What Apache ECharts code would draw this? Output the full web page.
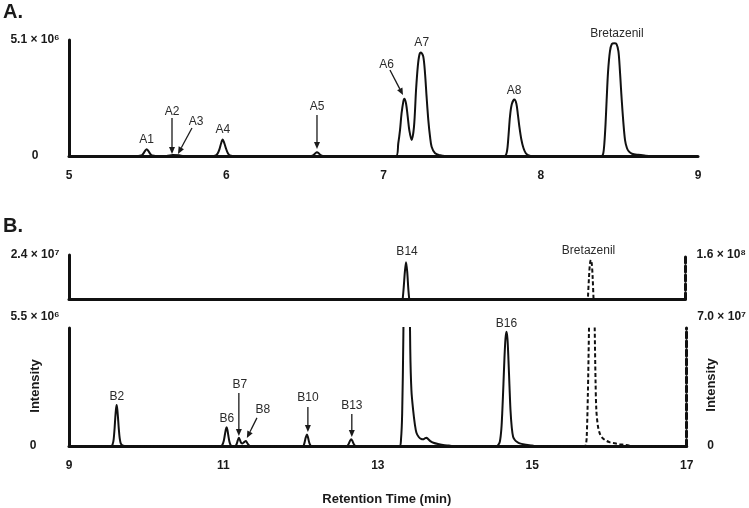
<!DOCTYPE html>
<html><head><meta charset="utf-8">
<script src="https://cdn.jsdelivr.net/npm/echarts@6/dist/echarts.min.js"></script>
<style>html,body{margin:0;padding:0;background:#fff}#c{width:749px;height:508px}</style>
</head><body><div id="c"></div>
<script>
const FONT = '"Liberation Sans", Arial, Helvetica, sans-serif';

// ---------- Panel A trace (time in min, intensity in units of 1e6) ----------
const aTime = [5.00,
  5.44, 5.458, 5.467, 5.476, 5.485, 5.494, 5.503, 5.512, 5.521, 5.53, 5.55,
  5.62, 5.66, 5.70, 5.73,
  5.92, 5.937, 5.947, 5.957, 5.967, 5.977, 5.987, 5.997, 6.007, 6.017, 6.03, 6.04,
  6.54, 6.555, 6.565, 6.577, 6.589, 6.60, 6.615,
  7.08, 7.094, 7.105, 7.115, 7.126, 7.132, 7.143, 7.154, 7.164, 7.179, 7.194, 7.207, 7.218, 7.228, 7.238,
  7.253, 7.264, 7.274, 7.285, 7.296, 7.306, 7.328, 7.36, 7.39,
  7.77, 7.785, 7.795, 7.804, 7.815, 7.832, 7.845, 7.855, 7.864, 7.876, 7.89, 7.905, 7.92, 7.95,
  8.385, 8.397, 8.405, 8.412, 8.419, 8.428, 8.44, 8.452, 8.468, 8.482, 8.494, 8.503, 8.51, 8.515, 8.525,
  8.536, 8.548, 8.56, 8.58, 8.62, 8.66, 8.70, 9.00];
const aIntensity = [0,
  0, 0.02, 0.06, 0.14, 0.24, 0.30, 0.24, 0.14, 0.06, 0.02, 0,
  0, 0.04, 0.03, 0,
  0, 0.04, 0.13, 0.30, 0.55, 0.73, 0.58, 0.36, 0.17, 0.06, 0.01, 0,
  0, 0.04, 0.11, 0.17, 0.11, 0.04, 0,
  0, 0.56, 1.14, 1.88, 2.39, 2.52, 2.32, 1.73, 1.14, 0.70, 1.29, 2.90, 3.93, 4.44, 4.55,
  4.37, 3.64, 2.61, 1.58, 0.85, 0.41, 0.12, 0.03, 0,
  0, 0.2, 0.9, 1.71, 2.25, 2.48, 2.3, 1.8, 1.29, 0.75, 0.35, 0.12, 0.04, 0,
  0, 0.1, 0.6, 1.4, 2.46, 3.7, 4.6, 4.92, 4.96, 4.92, 4.6, 3.8, 3.0, 2.46, 1.5,
  0.70, 0.35, 0.2, 0.1, 0.05, 0.02, 0, 0];

// ---------- Panel B solid trace (left axes, units of 1e6) ----------
const bTime = [9.00,
  9.55, 9.565, 9.578, 9.59, 9.60, 9.608, 9.617, 9.626, 9.635, 9.645, 9.657, 9.67, 9.69, 9.72,
  10.965, 10.985, 11.005, 11.02, 11.03, 11.041, 11.052, 11.063, 11.078, 11.093, 11.11,
  11.15, 11.17, 11.185, 11.20, 11.215, 11.23, 11.248, 11.268, 11.291, 11.31, 11.325, 11.345,
  12.03, 12.048, 12.065, 12.081, 12.097, 12.115, 12.14,
  12.60, 12.62, 12.64, 12.655, 12.67, 12.69, 12.715,
  13.28, 13.30, 13.315, 13.33, 13.345, 13.36, 13.375, 13.39, 13.405, 13.42, 13.435, 13.457, 13.48, 13.50,
  13.53, 13.56, 13.587, 13.61, 13.63, 13.65, 13.68, 13.72, 13.78, 13.845, 13.92, 13.97,
  14.53, 14.557, 14.58, 14.60, 14.613, 14.627, 14.64, 14.653, 14.666, 14.679, 14.692, 14.705, 14.718,
  14.735, 14.752, 14.775, 14.80, 14.838, 14.90, 14.968, 15.05, 17.00];
const bIntensity = [0,
  0, 0.08, 0.3, 0.8, 1.35, 1.7, 1.91, 1.7, 1.3, 0.8, 0.35, 0.12, 0.03, 0,
  0, 0.05, 0.25, 0.55, 0.75, 0.87, 0.75, 0.5, 0.2, 0.05, 0,
  0, 0.08, 0.25, 0.39, 0.27, 0.15, 0.12, 0.18, 0.23, 0.13, 0.05, 0,
  0, 0.12, 0.38, 0.54, 0.38, 0.12, 0,
  0, 0.08, 0.24, 0.31, 0.24, 0.08, 0,
  0, 0.3, 1.5, 5.0, 10.5, 17, 21, 17, 9.5, 4.5, 2.6, 1.68, 1.0, 0.62,
  0.42, 0.33, 0.31, 0.36, 0.39, 0.33, 0.23, 0.15, 0.09, 0.05, 0.02, 0,
  0, 0.04, 0.2, 0.8, 1.68, 2.9, 4.1, 5.0, 5.33, 5.0, 4.0, 2.8, 1.68,
  0.85, 0.43, 0.28, 0.2, 0.12, 0.07, 0.04, 0, 0];

// ---------- Panel B dashed Bretazenil trace (right axes, units of 1e6) ----------
const bBretTime = [9.00, 15.68, 15.693, 15.705, 15.72, 15.735, 15.75, 15.762, 15.774, 15.786, 15.797, 15.809,
  15.82, 15.83, 15.85, 15.874, 15.90, 15.94, 16.00, 16.07, 16.13, 16.20, 16.26, 16.30, 17.00];
const bBretIntensity = [0, 0, 0.5, 5, 30, 70, 115, 142, 150, 142, 115, 70,
  38, 21.4, 12, 7.5, 5.2, 3.6, 2.3, 1.6, 1.1, 0.6, 0.2, 0, 0];

// ---------- Axes ----------
const aTicks = [5, 6, 7, 8, 9];
const bTicks = [9, 11, 13, 15, 17];
const aYMax = 5.1, aYMaxLabel = '5.1 × 10⁶';
const bTopLeftMin = 5.5, bTopLeftMax = 24, bTopLeftLabel = '2.4 × 10⁷';
const bTopRightMin = 70, bTopRightMax = 160, bTopRightLabel = '1.6 × 10⁸';
const bBotLeftMax = 5.5, bBotLeftLabel = '5.5 × 10⁶';
const bBotRightMax = 70, bBotRightLabel = '7.0 × 10⁷';

// ---------- Annotations [text, panel, time, intensity] ----------
const peakLabels = [
  ['A1', 'A', 5.494, 0.70], ['A2', 'A', 5.655, 1.93], ['A3', 'A', 5.808, 1.50],
  ['A4', 'A', 5.979, 1.14], ['A5', 'A', 6.577, 2.15], ['A6', 'A', 7.020, 4.03],
  ['A7', 'A', 7.243, 4.96], ['A8', 'A', 7.830, 2.86], ['Bretazenil', 'A', 8.485, 5.36],
  ['B14', 'Btop', 13.388, 25.26], ['Bretazenil', 'Btop', 15.744, 25.68],
  ['B2', 'Bbot', 9.621, 2.28], ['B6', 'Bbot', 11.045, 1.26], ['B7', 'Bbot', 11.214, 2.84],
  ['B8', 'Bbot', 11.511, 1.68], ['B10', 'Bbot', 12.094, 2.24], ['B13', 'Bbot', 12.663, 1.86],
  ['B16', 'Bbot', 14.666, 5.72]
];
// [panel, t1, v1, t2, v2] arrow from (t1,v1) to tip (t2,v2)
const arrows = [
  ['A', 5.655, 1.67, 5.655, 0.09], ['A', 5.782, 1.23, 5.693, 0.09],
  ['A', 6.577, 1.80, 6.577, 0.31], ['A', 7.041, 3.78, 7.124, 2.68],
  ['Bbot', 11.20, 2.47, 11.20, 0.47], ['Bbot', 11.434, 1.31, 11.304, 0.37],
  ['Bbot', 12.094, 1.82, 12.094, 0.65], ['Bbot', 12.663, 1.49, 12.663, 0.42]
];

const zip = (xs, ys) => xs.map((x, i) => [x, ys[i]]);
const near = (a, b) => Math.abs(a - b) < 1e-6;
const axisLineStyle = { color: '#111', width: 3 };
const lbl = { fontFamily: FONT, fontWeight: 'bold', fontSize: 12, color: '#1a1a1a' };

function xAx(grid, min, max, ticks, showLabels, extra) {
  return Object.assign({
    gridIndex: grid, type: 'value', min: min, max: max, interval: 1,
    axisLine: { show: true, onZero: false, lineStyle: axisLineStyle },
    axisTick: { show: false }, splitLine: { show: false },
    axisLabel: Object.assign({}, lbl, { show: showLabels, margin: 14,
      formatter: v => ticks.includes(v) ? String(v) : '' })
  }, extra || {});
}
function yAx(grid, pos, min, max, fmt, dashed, margin, extra) {
  return Object.assign({
    gridIndex: grid, type: 'value', position: pos, min: min, max: max,
    axisLine: { show: true, onZero: false, lineStyle: Object.assign({}, axisLineStyle, dashed ? { type: [6, 3] } : {}) },
    axisTick: { show: false }, splitLine: { show: false },
    axisLabel: Object.assign({}, lbl, { align: 'center', margin: margin, formatter: fmt,
      rich: { z: Object.assign({}, lbl, { padding: [0, 24, 0, 0] }) } })
  }, extra || {});
}
const nameStyle = (pad) => ({ fontFamily: FONT, fontWeight: 'bold', fontSize: 12, color: '#1a1a1a',
  align: 'center', verticalAlign: 'middle', padding: pad });

const solid = { color: '#111', width: 2 };
const dashed = { color: '#111', width: 2, type: [4, 2.5] };
function line(data, xi, yi, style) {
  return { type: 'line', data: data, xAxisIndex: xi, yAxisIndex: yi, showSymbol: false, symbol: 'none',
    smooth: 0.3, lineStyle: style, itemStyle: { color: '#111' }, clip: true, silent: true };
}

const chart = echarts.init(document.getElementById('c'));
chart.setOption({
  animation: false,
  grid: [
    { left: 69, top: 40, width: 629, height: 116 },
    { left: 69, top: 255, width: 618, height: 44 },
    { left: 69, top: 328, width: 618, height: 118 }
  ],
  xAxis: [
    xAx(0, 5, 9, aTicks, true),
    xAx(1, 9, 17, bTicks, false),
    xAx(2, 9, 17, bTicks, true, { name: 'Retention Time (min)', nameLocation: 'middle', nameGap: 47,
      nameTextStyle: { fontFamily: FONT, fontWeight: 'bold', fontSize: 13, color: '#1a1a1a', padding: [0, 0, 0, 18] } })
  ],
  yAxis: [
    yAx(0, 'left', 0, aYMax, v => near(v, 0) ? '0' : (near(v, aYMax) ? aYMaxLabel : ''), false, 34, { interval: aYMax }),
    yAx(1, 'left', bTopLeftMin, bTopLeftMax, v => near(v, bTopLeftMax) ? bTopLeftLabel : '', false, 34),
    yAx(1, 'right', bTopRightMin, bTopRightMax, v => near(v, bTopRightMax) ? bTopRightLabel : '', true, 36),
    yAx(2, 'left', 0, bBotLeftMax, v => near(v, 0) ? '0' : '', false, 36, { interval: bBotLeftMax,
      name: bBotLeftLabel, nameLocation: 'end', nameGap: 11, nameTextStyle: nameStyle([0, 68, 0, 0]) }),
    yAx(2, 'right', 0, bBotRightMax, v => near(v, 0) ? '{z|0}' : '', true, 36, { interval: bBotRightMax,
      name: bBotRightLabel, nameLocation: 'end', nameGap: 11, nameTextStyle: nameStyle([0, 0, 0, 70]) })
  ],
  series: [
    line(zip(aTime, aIntensity), 0, 0, solid),
    line(zip(bTime, bIntensity), 1, 1, solid),
    line(zip(bBretTime, bBretIntensity), 1, 2, dashed),
    line(zip(bTime, bIntensity), 2, 3, solid),
    line(zip(bBretTime, bBretIntensity), 2, 4, dashed)
  ]
});

const panels = { A: { xAxisIndex: 0, yAxisIndex: 0 }, Btop: { xAxisIndex: 1, yAxisIndex: 1 }, Bbot: { xAxisIndex: 2, yAxisIndex: 3 } };
const px = (p, t, v) => chart.convertToPixel(panels[p], [t, v]);
const g = [];
function txt(text, x, y, font, rot) {
  return { type: 'text', x: x, y: y, rotation: rot || 0, silent: true,
    style: { text: text, x: 0, y: 0, fill: '#1a1a1a', font: font, align: 'center', verticalAlign: 'middle',
      textAlign: 'center', textVerticalAlign: 'middle' } };
}
peakLabels.forEach(([t, p, tt, vv]) => {
  const [x, y] = px(p, tt, vv);
  const e = txt(t, x, y, '12px ' + FONT);
  e.style.fill = '#2b2b2b';
  g.push(e);
});
arrows.forEach(([p, t1, v1, t2, v2]) => {
  const [x1, y1] = px(p, t1, v1), [x2, y2] = px(p, t2, v2);
  const dx = x2 - x1, dy = y2 - y1, L = Math.hypot(dx, dy), ux = dx / L, uy = dy / L;
  const hl = 7, hw = 3;
  const bx = x2 - ux * hl, by = y2 - uy * hl;
  g.push({ type: 'line', silent: true, shape: { x1: x1, y1: y1, x2: bx, y2: by }, style: { stroke: '#1a1a1a', lineWidth: 1.3 } });
  g.push({ type: 'polygon', silent: true, shape: { points: [[x2, y2], [bx - uy * hw, by + ux * hw], [bx + uy * hw, by - ux * hw]] },
    style: { fill: '#1a1a1a' } });
});
g.push(txt('A.', 13, 12, 'bold 20px ' + FONT));
g.push(txt('B.', 13, 226, 'bold 20px ' + FONT));
g.push(txt('Intensity', 35, 386, 'bold 13px ' + FONT, Math.PI / 2));
g.push(txt('Intensity', 711, 385, 'bold 13px ' + FONT, Math.PI / 2));
chart.setOption({ graphic: g });
</script></body></html>
